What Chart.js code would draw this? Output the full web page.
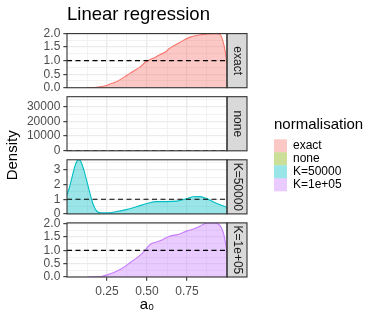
<!DOCTYPE html>
<html><head><meta charset="utf-8">
<script src="https://cdn.jsdelivr.net/npm/chart.js@4"></script>
<style>html,body{margin:0;padding:0;background:#fff;}</style>
</head><body>
<canvas id="c" width="382" height="322" style="width:382px;height:322px;display:block"></canvas>
<script>
// ---- data ----
const seriesNames = ['exact', 'none', 'K=50000', 'K=1e+05'];
const seriesColors = ['#F8766D', '#7CAE00', '#00BFC4', '#C77CFF'];

const xExact = [0.12,0.17,0.205,0.24,0.27,0.30,0.33,0.36,0.39,0.42,0.456,0.487,0.52,0.55,0.58,0.61,0.64,0.67,0.707,0.74,0.77,0.80,0.83,0.87,0.91,0.94,0.955,0.968,0.98,0.99,1.0];
const yExact = [0,0.005,0.03,0.07,0.14,0.2,0.29,0.4,0.52,0.63,0.76,0.93,1.04,1.12,1.22,1.3,1.45,1.56,1.68,1.79,1.87,1.92,1.95,1.98,2.0,2.0,1.97,1.85,1.6,1.3,0.9];

const xNone = [];
const yNone = [];

const xK5 = [0,0.015,0.028,0.048,0.062,0.073,0.085,0.105,0.12,0.132,0.153,0.174,0.19,0.21,0.25,0.31,0.37,0.435,0.50,0.56,0.62,0.686,0.75,0.79,0.83,0.86,0.916,0.958,1.0];
const yK5 = [1.3,1.8,2.35,3.2,3.6,3.69,3.6,3.0,2.4,1.9,1.0,0.38,0.15,0.08,0.07,0.16,0.29,0.49,0.71,0.84,0.84,0.87,1.04,1.17,1.18,1.1,0.82,0.62,0.45];

const xK1 = [0.13,0.18,0.22,0.25,0.28,0.31,0.34,0.37,0.40,0.435,0.46,0.487,0.51,0.53,0.56,0.60,0.64,0.67,0.70,0.73,0.75,0.79,0.83,0.86,0.88,0.92,0.945,0.965,0.98,0.99,1.0];
const yK1 = [0,0.005,0.03,0.08,0.14,0.22,0.31,0.43,0.56,0.71,0.83,0.99,1.17,1.26,1.31,1.41,1.53,1.57,1.6,1.68,1.73,1.80,1.9,2.0,2.03,2.03,1.99,1.85,1.6,1.3,0.95];

const refLine = 1;   // dashed reference line

const xMajor = [0.25, 0.5, 0.75];
const xMajorLabels = ['0.25', '0.50', '0.75'];
const xMinor = [0.125, 0.375, 0.625, 0.875];

const yMajorExact = [0, 0.5, 1, 1.5, 2];
const yLabelsExact = ['0.0', '0.5', '1.0', '1.5', '2.0'];
const yMinorExact = [0.25, 0.75, 1.25, 1.75];

const yMajorNone = [0, 10000, 20000, 30000];
const yLabelsNone = ['0', '10000', '20000', '30000'];
const yMinorNone = [5000, 15000, 25000, 35000];

const yMajorK5 = [0, 1, 2, 3];
const yLabelsK5 = ['0', '1', '2', '3'];
const yMinorK5 = [0.5, 1.5, 2.5, 3.5];

const yMajorK1 = [0, 0.5, 1, 1.5, 2];
const yLabelsK1 = ['0.0', '0.5', '1.0', '1.5', '2.0'];
const yMinorK1 = [0.25, 0.75, 1.25, 1.75];

const yMaxes = [2.0, 36800, 3.69, 2.03];

// ---- styling ----
Chart.defaults.font.family = "'Liberation Sans', Arial, sans-serif";
Chart.defaults.color = '#000';
const PANEL_W = 54.3, GAP_W = 9;
const GRID = '#EBEBEB', DARK = '#333333';

function rgba(hex, a) {
  const n = parseInt(hex.slice(1), 16);
  return `rgba(${(n >> 16) & 255},${(n >> 8) & 255},${n & 255},${a})`;
}
function pts(xs, ys) { return xs.map((x, i) => ({x, y: ys[i]})); }

function panelScale(weight, max, majors, labels, minors) {
  const all = majors.concat(minors).sort((a, b) => a - b);
  const isMajor = v => majors.indexOf(v) >= 0;
  return {
    type: 'linear', position: 'left', stack: 'p', stackWeight: PANEL_W, weight,
    min: 0, max, bounds: 'data', display: true,
    afterBuildTicks: s => { s.ticks = all.map(v => ({value: v})); },
    afterFit: s => { s.width = 67; },
    ticks: {
      autoSkip: false, maxRotation: 0, padding: 3, color: '#4D4D4D', font: {size: 12},
      callback: v => { const i = majors.indexOf(v); return i < 0 ? '' : labels[i]; }
    },
    grid: {
      color: GRID,
      lineWidth: c => (c.tick && isMajor(c.tick.value)) ? 1.3 : 0.65,
      tickColor: c => (c.tick && isMajor(c.tick.value)) ? DARK : 'rgba(0,0,0,0)',
      tickLength: 3.7, tickWidth: 1.1, drawTicks: true
    },
    border: {display: false}
  };
}
function leftGap(weight, title) {
  return {
    type: 'linear', position: 'left', stack: 'p', stackWeight: GAP_W, weight, display: true,
    afterFit: s => { s.width = 67; },
    ticks: {display: false}, grid: {display: false, drawTicks: false}, border: {display: false},
    title: title ? {display: true, text: title, color: '#000', font: {size: 15}, padding: {top: 4.3, bottom: 0}} : {display: false}
  };
}
function strip(weight, text) {
  return {
    type: 'linear', position: 'right', stack: 'r', stackWeight: PANEL_W, weight, display: true,
    backgroundColor: '#D9D9D9',
    afterFit: s => { s.width = 20; },
    ticks: {display: false}, grid: {display: false, drawTicks: false}, border: {display: false},
    title: {display: true, text, color: '#1A1A1A', font: {size: 12}, padding: {top: 2.5, bottom: 0}}
  };
}
function rightGap(weight) {
  return {
    type: 'linear', position: 'right', stack: 'r', stackWeight: GAP_W, weight, display: true,
    afterFit: s => { s.width = 20; },
    ticks: {display: false}, grid: {display: false, drawTicks: false}, border: {display: false}
  };
}

const panelIds = ['y1', 'y2', 'y3', 'y4'];
const gapIds = ['g1', 'g2', 'g3'];
const stripIds = ['s1', 's2', 's3', 's4'];

const densityData = [pts(xExact, yExact), pts(xNone, yNone), pts(xK5, yK5), pts(xK1, yK1)];

const datasets = [];
seriesNames.forEach((name, i) => {
  datasets.push({
    label: name, data: densityData[i], yAxisID: panelIds[i], order: 1,
    borderColor: seriesColors[i], backgroundColor: rgba(seriesColors[i], 0.4),
    borderWidth: 1.1, fill: 'origin', pointRadius: 0, cubicInterpolationMode: 'monotone'
  });
});
panelIds.forEach((id, i) => {
  datasets.push({
    label: 'ref' + i, data: [{x: 0, y: refLine}, {x: 1, y: refLine}], yAxisID: id, order: 0,
    borderColor: '#000', borderWidth: 1.1, borderDash: [5, 3.5], fill: false, pointRadius: 0
  });
});

const panelPlugin = {
  id: 'panels',
  afterLayout(chart) {
    // let the legend title use the room to the right of the keys
    const L = chart.legend;
    if (L) { L.width = 105; L.right = L.left + 105; }
  },
  beforeDatasetsDraw(chart) {
    const {ctx, chartArea: ca} = chart;
    ctx.save();
    ctx.fillStyle = '#fff';
    gapIds.forEach(id => { const s = chart.scales[id]; ctx.fillRect(ca.left, s.top, ca.width, s.height); });
    ctx.restore();
  },
  afterDatasetsDraw(chart) {
    const {ctx, chartArea: ca} = chart;
    ctx.save();
    ctx.strokeStyle = DARK; ctx.lineWidth = 1.1;
    panelIds.forEach(id => { const s = chart.scales[id]; ctx.strokeRect(ca.left, s.top, ca.width, s.height); });
    stripIds.forEach(id => { const s = chart.scales[id]; ctx.strokeRect(s.left, s.top, s.width, s.height); });
    ctx.restore();
  }
};

const scales = {
  x: {
    type: 'linear', position: 'bottom', min: 0, max: 1, bounds: 'data',
    afterBuildTicks: s => { s.ticks = xMajor.concat(xMinor).sort((a, b) => a - b).map(v => ({value: v})); },
    afterFit: s => { s.height = 37; },
    ticks: {
      autoSkip: false, maxRotation: 0, padding: 4, color: '#4D4D4D', font: {size: 12},
      callback: v => { const i = xMajor.indexOf(v); return i < 0 ? '' : xMajorLabels[i]; }
    },
    grid: {
      color: GRID,
      lineWidth: c => (c.tick && xMajor.indexOf(c.tick.value) >= 0) ? 1.3 : 0.65,
      tickColor: c => (c.tick && xMajor.indexOf(c.tick.value) >= 0) ? DARK : 'rgba(0,0,0,0)',
      tickLength: 3.7, tickWidth: 1.1
    },
    border: {display: false},
    title: {display: true, text: 'a₀', color: '#000', font: {size: 15}, padding: {top: 0, bottom: 0}}
  },
  y1: panelScale(7, yMaxes[0], yMajorExact, yLabelsExact, yMinorExact),
  g1: leftGap(6),
  y2: panelScale(5, yMaxes[1], yMajorNone, yLabelsNone, yMinorNone),
  g2: leftGap(4, 'Density'),
  y3: panelScale(3, yMaxes[2], yMajorK5, yLabelsK5, yMinorK5),
  g3: leftGap(2),
  y4: panelScale(1, yMaxes[3], yMajorK1, yLabelsK1, yMinorK1),
  s1: strip(1, seriesNames[0]),
  r1: rightGap(2),
  s2: strip(3, seriesNames[1]),
  r2: rightGap(4),
  s3: strip(5, seriesNames[2]),
  r3: rightGap(6),
  s4: strip(7, seriesNames[3]),
  rg: {
    type: 'linear', position: 'right', weight: 8, display: true,
    afterFit: s => { s.width = 27; },
    ticks: {display: false}, grid: {display: false, drawTicks: false}, border: {display: false}
  }
};

new Chart(document.getElementById('c'), {
  type: 'line',
  data: {datasets},
  options: {
    responsive: false, animation: false, devicePixelRatio: 1,
    layout: {padding: {left: 0, right: 33, top: 0, bottom: 8}},
    scales,
    plugins: {
      tooltip: {enabled: false},
      title: {
        display: true, text: 'Linear regression', align: 'start', fullSize: false,
        color: '#000', font: {size: 18.5, weight: 'normal'}, padding: {top: 3.6, bottom: 7.8}
      },
      legend: {
        display: true, position: 'right', align: 'start', maxWidth: 75,
        title: {display: true, text: 'normalisation', position: 'start', color: '#000', font: {size: 15}, padding: {top: 117.2, bottom: 4.1}},
        labels: {
          boxWidth: 13, boxHeight: 13, padding: 0, color: '#000', font: {size: 12},
          generateLabels: () => seriesNames.map((n, i) => ({
            text: n, fillStyle: rgba(seriesColors[i], 0.4), strokeStyle: 'rgba(0,0,0,0)',
            lineWidth: 0, hidden: false, datasetIndex: i, fontColor: '#000'
          }))
        }
      }
    }
  },
  plugins: [panelPlugin]
});
</script>
</body></html>
